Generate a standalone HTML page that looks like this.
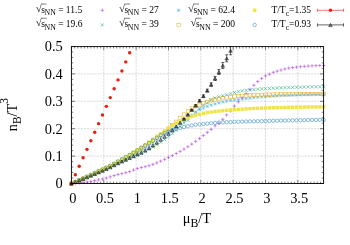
<!DOCTYPE html>
<html><head><meta charset="utf-8"><title>plot</title><style>html,body{margin:0;padding:0;background:#fff}</style></head><body>
<svg width="350" height="245" viewBox="0 0 350 245" style="display:block;font-family:'Liberation Serif',serif">
<rect width="350" height="245" fill="#fff"/>
<path d="M103.79 46.6V183.5M136.13 46.6V183.5M168.47 46.6V183.5M200.81 46.6V183.5M233.15 46.6V183.5M265.49 46.6V183.5M297.83 46.6V183.5M71.4 156.10H323.6M71.4 128.70H323.6M71.4 101.30H323.6M71.4 73.90H323.6" stroke="#bdbdbd" stroke-width="0.55" stroke-dasharray="2.2 0.95" fill="none"/>
<path d="M71.45 183.5v-3.5M71.45 46.6v3.5M74.68 183.5v-1.9M74.68 46.6v1.9M77.92 183.5v-1.9M77.92 46.6v1.9M81.15 183.5v-1.9M81.15 46.6v1.9M84.39 183.5v-1.9M84.39 46.6v1.9M87.62 183.5v-1.9M87.62 46.6v1.9M90.85 183.5v-1.9M90.85 46.6v1.9M94.09 183.5v-1.9M94.09 46.6v1.9M97.32 183.5v-1.9M97.32 46.6v1.9M100.56 183.5v-1.9M100.56 46.6v1.9M103.79 183.5v-3.5M103.79 46.6v3.5M107.02 183.5v-1.9M107.02 46.6v1.9M110.26 183.5v-1.9M110.26 46.6v1.9M113.49 183.5v-1.9M113.49 46.6v1.9M116.73 183.5v-1.9M116.73 46.6v1.9M119.96 183.5v-1.9M119.96 46.6v1.9M123.19 183.5v-1.9M123.19 46.6v1.9M126.43 183.5v-1.9M126.43 46.6v1.9M129.66 183.5v-1.9M129.66 46.6v1.9M132.90 183.5v-1.9M132.90 46.6v1.9M136.13 183.5v-3.5M136.13 46.6v3.5M139.36 183.5v-1.9M139.36 46.6v1.9M142.60 183.5v-1.9M142.60 46.6v1.9M145.83 183.5v-1.9M145.83 46.6v1.9M149.07 183.5v-1.9M149.07 46.6v1.9M152.30 183.5v-1.9M152.30 46.6v1.9M155.53 183.5v-1.9M155.53 46.6v1.9M158.77 183.5v-1.9M158.77 46.6v1.9M162.00 183.5v-1.9M162.00 46.6v1.9M165.24 183.5v-1.9M165.24 46.6v1.9M168.47 183.5v-3.5M168.47 46.6v3.5M171.70 183.5v-1.9M171.70 46.6v1.9M174.94 183.5v-1.9M174.94 46.6v1.9M178.17 183.5v-1.9M178.17 46.6v1.9M181.41 183.5v-1.9M181.41 46.6v1.9M184.64 183.5v-1.9M184.64 46.6v1.9M187.87 183.5v-1.9M187.87 46.6v1.9M191.11 183.5v-1.9M191.11 46.6v1.9M194.34 183.5v-1.9M194.34 46.6v1.9M197.58 183.5v-1.9M197.58 46.6v1.9M200.81 183.5v-3.5M200.81 46.6v3.5M204.04 183.5v-1.9M204.04 46.6v1.9M207.28 183.5v-1.9M207.28 46.6v1.9M210.51 183.5v-1.9M210.51 46.6v1.9M213.75 183.5v-1.9M213.75 46.6v1.9M216.98 183.5v-1.9M216.98 46.6v1.9M220.21 183.5v-1.9M220.21 46.6v1.9M223.45 183.5v-1.9M223.45 46.6v1.9M226.68 183.5v-1.9M226.68 46.6v1.9M229.92 183.5v-1.9M229.92 46.6v1.9M233.15 183.5v-3.5M233.15 46.6v3.5M236.38 183.5v-1.9M236.38 46.6v1.9M239.62 183.5v-1.9M239.62 46.6v1.9M242.85 183.5v-1.9M242.85 46.6v1.9M246.09 183.5v-1.9M246.09 46.6v1.9M249.32 183.5v-1.9M249.32 46.6v1.9M252.55 183.5v-1.9M252.55 46.6v1.9M255.79 183.5v-1.9M255.79 46.6v1.9M259.02 183.5v-1.9M259.02 46.6v1.9M262.26 183.5v-1.9M262.26 46.6v1.9M265.49 183.5v-3.5M265.49 46.6v3.5M268.72 183.5v-1.9M268.72 46.6v1.9M271.96 183.5v-1.9M271.96 46.6v1.9M275.19 183.5v-1.9M275.19 46.6v1.9M278.43 183.5v-1.9M278.43 46.6v1.9M281.66 183.5v-1.9M281.66 46.6v1.9M284.89 183.5v-1.9M284.89 46.6v1.9M288.13 183.5v-1.9M288.13 46.6v1.9M291.36 183.5v-1.9M291.36 46.6v1.9M294.60 183.5v-1.9M294.60 46.6v1.9M297.83 183.5v-3.5M297.83 46.6v3.5M301.06 183.5v-1.9M301.06 46.6v1.9M304.30 183.5v-1.9M304.30 46.6v1.9M307.53 183.5v-1.9M307.53 46.6v1.9M310.77 183.5v-1.9M310.77 46.6v1.9M314.00 183.5v-1.9M314.00 46.6v1.9M317.23 183.5v-1.9M317.23 46.6v1.9M320.47 183.5v-1.9M320.47 46.6v1.9M71.4 183.50h3.6M323.6 183.50h-3.6M71.4 178.02h1.9M323.6 178.02h-1.9M71.4 172.54h1.9M323.6 172.54h-1.9M71.4 167.06h1.9M323.6 167.06h-1.9M71.4 161.58h1.9M323.6 161.58h-1.9M71.4 156.10h3.6M323.6 156.10h-3.6M71.4 150.62h1.9M323.6 150.62h-1.9M71.4 145.14h1.9M323.6 145.14h-1.9M71.4 139.66h1.9M323.6 139.66h-1.9M71.4 134.18h1.9M323.6 134.18h-1.9M71.4 128.70h3.6M323.6 128.70h-3.6M71.4 123.22h1.9M323.6 123.22h-1.9M71.4 117.74h1.9M323.6 117.74h-1.9M71.4 112.26h1.9M323.6 112.26h-1.9M71.4 106.78h1.9M323.6 106.78h-1.9M71.4 101.30h3.6M323.6 101.30h-3.6M71.4 95.82h1.9M323.6 95.82h-1.9M71.4 90.34h1.9M323.6 90.34h-1.9M71.4 84.86h1.9M323.6 84.86h-1.9M71.4 79.38h1.9M323.6 79.38h-1.9M71.4 73.90h3.6M323.6 73.90h-3.6M71.4 68.42h1.9M323.6 68.42h-1.9M71.4 62.94h1.9M323.6 62.94h-1.9M71.4 57.46h1.9M323.6 57.46h-1.9M71.4 51.98h1.9M323.6 51.98h-1.9M71.4 46.50h3.6M323.6 46.50h-3.6" stroke="#000" stroke-width="0.5" fill="none"/>
<clipPath id="c"><rect x="68.4" y="46.1" width="258.20000000000005" height="139.9"/></clipPath>
<g clip-path="url(#c)">
<path d="M69.75 183.50H73.15M71.45 181.80V185.20" stroke="#9400D3" stroke-width="0.42" fill="none"/>
<path d="M73.63 183.35H77.03M75.33 181.65V185.05" stroke="#9400D3" stroke-width="0.42" fill="none"/>
<path d="M77.51 183.04H80.91M79.21 181.34V184.74" stroke="#9400D3" stroke-width="0.42" fill="none"/>
<path d="M81.39 182.59H84.79M83.09 180.89V184.29" stroke="#9400D3" stroke-width="0.42" fill="none"/>
<path d="M85.27 182.03H88.67M86.97 180.33V183.73" stroke="#9400D3" stroke-width="0.42" fill="none"/>
<path d="M89.15 181.37H92.55M90.85 179.67V183.07" stroke="#9400D3" stroke-width="0.42" fill="none"/>
<path d="M93.03 180.64H96.43M94.73 178.94V182.34" stroke="#9400D3" stroke-width="0.42" fill="none"/>
<path d="M96.92 179.85H100.32M98.62 178.15V181.55" stroke="#9400D3" stroke-width="0.42" fill="none"/>
<path d="M100.80 179.03H104.20M102.50 177.33V180.73" stroke="#9400D3" stroke-width="0.42" fill="none"/>
<path d="M104.68 178.12H108.08M106.38 176.42V179.82" stroke="#9400D3" stroke-width="0.42" fill="none"/>
<path d="M108.56 176.83H111.96M110.26 175.13V178.53" stroke="#9400D3" stroke-width="0.42" fill="none"/>
<path d="M112.44 175.56H115.84M114.14 173.86V177.26" stroke="#9400D3" stroke-width="0.42" fill="none"/>
<path d="M116.32 174.55H119.72M118.02 172.85V176.25" stroke="#9400D3" stroke-width="0.42" fill="none"/>
<path d="M120.20 173.65H123.60M121.90 171.95V175.35" stroke="#9400D3" stroke-width="0.42" fill="none"/>
<path d="M124.08 172.71H127.48M125.78 171.01V174.41" stroke="#9400D3" stroke-width="0.42" fill="none"/>
<path d="M127.96 171.61H131.36M129.66 169.91V173.31" stroke="#9400D3" stroke-width="0.42" fill="none"/>
<path d="M131.84 170.06H135.24M133.54 168.36V171.76" stroke="#9400D3" stroke-width="0.42" fill="none"/>
<path d="M135.72 168.58H139.12M137.42 166.88V170.28" stroke="#9400D3" stroke-width="0.42" fill="none"/>
<path d="M139.60 167.56H143.00M141.30 165.86V169.26" stroke="#9400D3" stroke-width="0.42" fill="none"/>
<path d="M143.49 166.68H146.89M145.19 164.98V168.38" stroke="#9400D3" stroke-width="0.42" fill="none"/>
<path d="M147.37 165.68H150.77M149.07 163.98V167.38" stroke="#9400D3" stroke-width="0.42" fill="none"/>
<path d="M151.25 164.39H154.65M152.95 162.69V166.09" stroke="#9400D3" stroke-width="0.42" fill="none"/>
<path d="M155.13 162.86H158.53M156.83 161.16V164.56" stroke="#9400D3" stroke-width="0.42" fill="none"/>
<path d="M159.01 161.15H162.41M160.71 159.45V162.85" stroke="#9400D3" stroke-width="0.42" fill="none"/>
<path d="M162.89 159.33H166.29M164.59 157.63V161.03" stroke="#9400D3" stroke-width="0.42" fill="none"/>
<path d="M166.77 157.46H170.17M168.47 155.76V159.16" stroke="#9400D3" stroke-width="0.42" fill="none"/>
<path d="M170.65 155.54H174.05M172.35 153.84V157.24" stroke="#9400D3" stroke-width="0.42" fill="none"/>
<path d="M174.53 153.52H177.93M176.23 151.82V155.22" stroke="#9400D3" stroke-width="0.42" fill="none"/>
<path d="M178.41 151.37H181.81M180.11 149.67V153.07" stroke="#9400D3" stroke-width="0.42" fill="none"/>
<path d="M182.29 149.11H185.69M183.99 147.41V150.81" stroke="#9400D3" stroke-width="0.42" fill="none"/>
<path d="M186.17 146.70H189.57M187.87 145.00V148.40" stroke="#9400D3" stroke-width="0.42" fill="none"/>
<path d="M190.05 144.11H193.45M191.75 142.41V145.81" stroke="#9400D3" stroke-width="0.42" fill="none"/>
<path d="M193.94 141.37H197.34M195.64 139.67V143.07" stroke="#9400D3" stroke-width="0.42" fill="none"/>
<path d="M197.82 138.50H201.22M199.52 136.80V140.20" stroke="#9400D3" stroke-width="0.42" fill="none"/>
<path d="M201.70 135.41H205.10M203.40 133.71V137.11" stroke="#9400D3" stroke-width="0.42" fill="none"/>
<path d="M205.58 132.38H208.98M207.28 130.68V134.08" stroke="#9400D3" stroke-width="0.42" fill="none"/>
<path d="M209.46 129.35H212.86M211.16 127.65V131.05" stroke="#9400D3" stroke-width="0.42" fill="none"/>
<path d="M213.34 125.89H216.74M215.04 124.19V127.59" stroke="#9400D3" stroke-width="0.42" fill="none"/>
<path d="M217.22 123.25H220.62M218.92 121.55V124.95" stroke="#9400D3" stroke-width="0.42" fill="none"/>
<path d="M221.10 119.34H224.50M222.80 117.64V121.04" stroke="#9400D3" stroke-width="0.42" fill="none"/>
<path d="M224.98 115.01H228.38M226.68 113.31V116.71" stroke="#9400D3" stroke-width="0.42" fill="none"/>
<path d="M228.86 111.01H232.26M230.56 109.31V112.71" stroke="#9400D3" stroke-width="0.42" fill="none"/>
<path d="M232.74 106.11H236.14M234.44 104.41V107.81" stroke="#9400D3" stroke-width="0.42" fill="none"/>
<path d="M236.62 101.85H240.02M238.32 100.15V103.55" stroke="#9400D3" stroke-width="0.42" fill="none"/>
<path d="M240.51 97.77H243.91M242.21 96.07V99.47" stroke="#9400D3" stroke-width="0.42" fill="none"/>
<path d="M244.39 93.50H247.79M246.09 91.80V95.20" stroke="#9400D3" stroke-width="0.42" fill="none"/>
<path d="M248.27 89.51H251.67M249.97 87.81V91.21" stroke="#9400D3" stroke-width="0.42" fill="none"/>
<path d="M252.15 85.25H255.55M253.85 83.55V86.95" stroke="#9400D3" stroke-width="0.42" fill="none"/>
<path d="M256.03 81.56H259.43M257.73 79.86V83.26" stroke="#9400D3" stroke-width="0.42" fill="none"/>
<path d="M259.91 78.59H263.31M261.61 76.89V80.29" stroke="#9400D3" stroke-width="0.42" fill="none"/>
<path d="M263.79 75.85H267.19M265.49 74.15V77.55" stroke="#9400D3" stroke-width="0.42" fill="none"/>
<path d="M267.67 74.16H271.07M269.37 72.46V75.86" stroke="#9400D3" stroke-width="0.42" fill="none"/>
<path d="M271.55 72.32H274.95M273.25 70.62V74.02" stroke="#9400D3" stroke-width="0.42" fill="none"/>
<path d="M275.43 71.19H278.83M277.13 69.49V72.89" stroke="#9400D3" stroke-width="0.42" fill="none"/>
<path d="M279.31 70.05H282.71M281.01 68.35V71.75" stroke="#9400D3" stroke-width="0.42" fill="none"/>
<path d="M283.19 69.03H286.59M284.89 67.33V70.73" stroke="#9400D3" stroke-width="0.42" fill="none"/>
<path d="M287.07 68.12H290.47M288.77 66.42V69.82" stroke="#9400D3" stroke-width="0.42" fill="none"/>
<path d="M290.96 67.53H294.36M292.66 65.83V69.23" stroke="#9400D3" stroke-width="0.42" fill="none"/>
<path d="M294.84 67.11H298.24M296.54 65.41V68.81" stroke="#9400D3" stroke-width="0.42" fill="none"/>
<path d="M298.72 66.72H302.12M300.42 65.02V68.42" stroke="#9400D3" stroke-width="0.42" fill="none"/>
<path d="M302.60 66.38H306.00M304.30 64.68V68.08" stroke="#9400D3" stroke-width="0.42" fill="none"/>
<path d="M306.48 66.08H309.88M308.18 64.38V67.78" stroke="#9400D3" stroke-width="0.42" fill="none"/>
<path d="M310.36 65.84H313.76M312.06 64.14V67.54" stroke="#9400D3" stroke-width="0.42" fill="none"/>
<path d="M314.24 65.65H317.64M315.94 63.95V67.35" stroke="#9400D3" stroke-width="0.42" fill="none"/>
<path d="M318.12 65.54H321.52M319.82 63.84V67.24" stroke="#9400D3" stroke-width="0.42" fill="none"/>
<path d="M322.00 65.50H325.40M323.70 63.80V67.20" stroke="#9400D3" stroke-width="0.42" fill="none"/>
<path d="M69.85 181.90L73.05 185.10M69.85 185.10L73.05 181.90" stroke="#009E73" stroke-width="0.5" fill="none"/>
<path d="M73.73 180.36L76.93 183.56M73.73 183.56L76.93 180.36" stroke="#009E73" stroke-width="0.5" fill="none"/>
<path d="M77.61 178.81L80.81 182.01M77.61 182.01L80.81 178.81" stroke="#009E73" stroke-width="0.5" fill="none"/>
<path d="M81.49 177.26L84.69 180.46M81.49 180.46L84.69 177.26" stroke="#009E73" stroke-width="0.5" fill="none"/>
<path d="M85.37 175.70L88.57 178.90M85.37 178.90L88.57 175.70" stroke="#009E73" stroke-width="0.5" fill="none"/>
<path d="M89.25 174.15L92.45 177.35M89.25 177.35L92.45 174.15" stroke="#009E73" stroke-width="0.5" fill="none"/>
<path d="M93.13 172.61L96.33 175.81M93.13 175.81L96.33 172.61" stroke="#009E73" stroke-width="0.5" fill="none"/>
<path d="M97.02 171.04L100.22 174.24M97.02 174.24L100.22 171.04" stroke="#009E73" stroke-width="0.5" fill="none"/>
<path d="M100.90 169.40L104.10 172.60M100.90 172.60L104.10 169.40" stroke="#009E73" stroke-width="0.5" fill="none"/>
<path d="M104.78 167.66L107.98 170.86M104.78 170.86L107.98 167.66" stroke="#009E73" stroke-width="0.5" fill="none"/>
<path d="M108.66 165.83L111.86 169.03M108.66 169.03L111.86 165.83" stroke="#009E73" stroke-width="0.5" fill="none"/>
<path d="M112.54 163.99L115.74 167.19M112.54 167.19L115.74 163.99" stroke="#009E73" stroke-width="0.5" fill="none"/>
<path d="M116.42 162.20L119.62 165.40M116.42 165.40L119.62 162.20" stroke="#009E73" stroke-width="0.5" fill="none"/>
<path d="M120.30 160.48L123.50 163.68M120.30 163.68L123.50 160.48" stroke="#009E73" stroke-width="0.5" fill="none"/>
<path d="M124.18 158.81L127.38 162.01M124.18 162.01L127.38 158.81" stroke="#009E73" stroke-width="0.5" fill="none"/>
<path d="M128.06 157.12L131.26 160.32M128.06 160.32L131.26 157.12" stroke="#009E73" stroke-width="0.5" fill="none"/>
<path d="M131.94 155.40L135.14 158.60M131.94 158.60L135.14 155.40" stroke="#009E73" stroke-width="0.5" fill="none"/>
<path d="M135.82 153.60L139.02 156.80M135.82 156.80L139.02 153.60" stroke="#009E73" stroke-width="0.5" fill="none"/>
<path d="M139.70 151.90L142.90 155.10M139.70 155.10L142.90 151.90" stroke="#009E73" stroke-width="0.5" fill="none"/>
<path d="M143.59 150.00L146.79 153.20M143.59 153.20L146.79 150.00" stroke="#009E73" stroke-width="0.5" fill="none"/>
<path d="M147.47 147.90L150.67 151.10M147.47 151.10L150.67 147.90" stroke="#009E73" stroke-width="0.5" fill="none"/>
<path d="M151.35 145.52L154.55 148.72M151.35 148.72L154.55 145.52" stroke="#009E73" stroke-width="0.5" fill="none"/>
<path d="M155.23 143.00L158.43 146.20M155.23 146.20L158.43 143.00" stroke="#009E73" stroke-width="0.5" fill="none"/>
<path d="M159.11 140.57L162.31 143.77M159.11 143.77L162.31 140.57" stroke="#009E73" stroke-width="0.5" fill="none"/>
<path d="M162.99 138.00L166.19 141.20M162.99 141.20L166.19 138.00" stroke="#009E73" stroke-width="0.5" fill="none"/>
<path d="M166.87 135.08L170.07 138.28M166.87 138.28L170.07 135.08" stroke="#009E73" stroke-width="0.5" fill="none"/>
<path d="M170.75 131.90L173.95 135.10M170.75 135.10L173.95 131.90" stroke="#009E73" stroke-width="0.5" fill="none"/>
<path d="M174.63 128.46L177.83 131.66M174.63 131.66L177.83 128.46" stroke="#009E73" stroke-width="0.5" fill="none"/>
<path d="M178.51 124.90L181.71 128.10M178.51 128.10L181.71 124.90" stroke="#009E73" stroke-width="0.5" fill="none"/>
<path d="M182.39 121.40L185.59 124.60M182.39 124.60L185.59 121.40" stroke="#009E73" stroke-width="0.5" fill="none"/>
<path d="M186.27 118.80L189.47 122.00M186.27 122.00L189.47 118.80" stroke="#009E73" stroke-width="0.5" fill="none"/>
<path d="M190.15 114.76L193.35 117.96M190.15 117.96L193.35 114.76" stroke="#009E73" stroke-width="0.5" fill="none"/>
<path d="M194.04 110.40L197.24 113.60M194.04 113.60L197.24 110.40" stroke="#009E73" stroke-width="0.5" fill="none"/>
<path d="M197.92 106.64L201.12 109.84M197.92 109.84L201.12 106.64" stroke="#009E73" stroke-width="0.5" fill="none"/>
<path d="M201.80 103.50L205.00 106.70M201.80 106.70L205.00 103.50" stroke="#009E73" stroke-width="0.5" fill="none"/>
<path d="M205.68 101.40L208.88 104.60M205.68 104.60L208.88 101.40" stroke="#009E73" stroke-width="0.5" fill="none"/>
<path d="M209.56 98.26L212.76 101.46M209.56 101.46L212.76 98.26" stroke="#009E73" stroke-width="0.5" fill="none"/>
<path d="M213.44 96.46L216.64 99.66M213.44 99.66L216.64 96.46" stroke="#009E73" stroke-width="0.5" fill="none"/>
<path d="M217.32 95.19L220.52 98.39M217.32 98.39L220.52 95.19" stroke="#009E73" stroke-width="0.5" fill="none"/>
<path d="M221.20 94.16L224.40 97.36M221.20 97.36L224.40 94.16" stroke="#009E73" stroke-width="0.5" fill="none"/>
<path d="M225.08 93.20L228.28 96.40M225.08 96.40L228.28 93.20" stroke="#009E73" stroke-width="0.5" fill="none"/>
<path d="M228.96 92.13L232.16 95.33M228.96 95.33L232.16 92.13" stroke="#009E73" stroke-width="0.5" fill="none"/>
<path d="M232.84 90.87L236.04 94.07M232.84 94.07L236.04 90.87" stroke="#009E73" stroke-width="0.5" fill="none"/>
<path d="M236.72 89.85L239.92 93.05M236.72 93.05L239.92 89.85" stroke="#009E73" stroke-width="0.5" fill="none"/>
<path d="M240.61 89.23L243.81 92.43M240.61 92.43L243.81 89.23" stroke="#009E73" stroke-width="0.5" fill="none"/>
<path d="M244.49 88.71L247.69 91.91M244.49 91.91L247.69 88.71" stroke="#009E73" stroke-width="0.5" fill="none"/>
<path d="M248.37 88.27L251.57 91.47M248.37 91.47L251.57 88.27" stroke="#009E73" stroke-width="0.5" fill="none"/>
<path d="M252.25 87.90L255.45 91.10M252.25 91.10L255.45 87.90" stroke="#009E73" stroke-width="0.5" fill="none"/>
<path d="M256.13 87.57L259.33 90.77M256.13 90.77L259.33 87.57" stroke="#009E73" stroke-width="0.5" fill="none"/>
<path d="M260.01 87.28L263.21 90.48M260.01 90.48L263.21 87.28" stroke="#009E73" stroke-width="0.5" fill="none"/>
<path d="M263.89 87.01L267.09 90.21M263.89 90.21L267.09 87.01" stroke="#009E73" stroke-width="0.5" fill="none"/>
<path d="M267.77 86.76L270.97 89.96M267.77 89.96L270.97 86.76" stroke="#009E73" stroke-width="0.5" fill="none"/>
<path d="M271.65 86.53L274.85 89.73M271.65 89.73L274.85 86.53" stroke="#009E73" stroke-width="0.5" fill="none"/>
<path d="M275.53 86.33L278.73 89.53M275.53 89.53L278.73 86.33" stroke="#009E73" stroke-width="0.5" fill="none"/>
<path d="M279.41 86.15L282.61 89.35M279.41 89.35L282.61 86.15" stroke="#009E73" stroke-width="0.5" fill="none"/>
<path d="M283.29 86.00L286.49 89.20M283.29 89.20L286.49 86.00" stroke="#009E73" stroke-width="0.5" fill="none"/>
<path d="M287.17 85.87L290.37 89.07M287.17 89.07L290.37 85.87" stroke="#009E73" stroke-width="0.5" fill="none"/>
<path d="M291.06 85.75L294.26 88.95M291.06 88.95L294.26 85.75" stroke="#009E73" stroke-width="0.5" fill="none"/>
<path d="M294.94 85.62L298.14 88.82M294.94 88.82L298.14 85.62" stroke="#009E73" stroke-width="0.5" fill="none"/>
<path d="M298.82 85.51L302.02 88.71M298.82 88.71L302.02 85.51" stroke="#009E73" stroke-width="0.5" fill="none"/>
<path d="M302.70 85.40L305.90 88.60M302.70 88.60L305.90 85.40" stroke="#009E73" stroke-width="0.5" fill="none"/>
<path d="M306.58 85.31L309.78 88.51M306.58 88.51L309.78 85.31" stroke="#009E73" stroke-width="0.5" fill="none"/>
<path d="M310.46 85.23L313.66 88.43M310.46 88.43L313.66 85.23" stroke="#009E73" stroke-width="0.5" fill="none"/>
<path d="M314.34 85.17L317.54 88.37M314.34 88.37L317.54 85.17" stroke="#009E73" stroke-width="0.5" fill="none"/>
<path d="M318.22 85.12L321.42 88.32M318.22 88.32L321.42 85.12" stroke="#009E73" stroke-width="0.5" fill="none"/>
<path d="M322.10 85.10L325.30 88.30M322.10 88.30L325.30 85.10" stroke="#009E73" stroke-width="0.5" fill="none"/>
<path d="M69.85 183.50H73.05M71.45 181.90V185.10" stroke="#56B4E9" stroke-width="0.5" fill="none"/><path d="M69.85 181.90L73.05 185.10M69.85 185.10L73.05 181.90" stroke="#56B4E9" stroke-width="0.5" fill="none"/>
<path d="M73.73 181.92H76.93M75.33 180.32V183.52" stroke="#56B4E9" stroke-width="0.5" fill="none"/><path d="M73.73 180.32L76.93 183.52M73.73 183.52L76.93 180.32" stroke="#56B4E9" stroke-width="0.5" fill="none"/>
<path d="M77.61 180.31H80.81M79.21 178.71V181.91" stroke="#56B4E9" stroke-width="0.5" fill="none"/><path d="M77.61 178.71L80.81 181.91M77.61 181.91L80.81 178.71" stroke="#56B4E9" stroke-width="0.5" fill="none"/>
<path d="M81.49 178.67H84.69M83.09 177.07V180.27" stroke="#56B4E9" stroke-width="0.5" fill="none"/><path d="M81.49 177.07L84.69 180.27M81.49 180.27L84.69 177.07" stroke="#56B4E9" stroke-width="0.5" fill="none"/>
<path d="M85.37 177.00H88.57M86.97 175.40V178.60" stroke="#56B4E9" stroke-width="0.5" fill="none"/><path d="M85.37 175.40L88.57 178.60M85.37 178.60L88.57 175.40" stroke="#56B4E9" stroke-width="0.5" fill="none"/>
<path d="M89.25 175.30H92.45M90.85 173.70V176.90" stroke="#56B4E9" stroke-width="0.5" fill="none"/><path d="M89.25 173.70L92.45 176.90M89.25 176.90L92.45 173.70" stroke="#56B4E9" stroke-width="0.5" fill="none"/>
<path d="M93.13 173.57H96.33M94.73 171.97V175.17" stroke="#56B4E9" stroke-width="0.5" fill="none"/><path d="M93.13 171.97L96.33 175.17M93.13 175.17L96.33 171.97" stroke="#56B4E9" stroke-width="0.5" fill="none"/>
<path d="M97.02 171.80H100.22M98.62 170.20V173.40" stroke="#56B4E9" stroke-width="0.5" fill="none"/><path d="M97.02 170.20L100.22 173.40M97.02 173.40L100.22 170.20" stroke="#56B4E9" stroke-width="0.5" fill="none"/>
<path d="M100.90 170.00H104.10M102.50 168.40V171.60" stroke="#56B4E9" stroke-width="0.5" fill="none"/><path d="M100.90 168.40L104.10 171.60M100.90 171.60L104.10 168.40" stroke="#56B4E9" stroke-width="0.5" fill="none"/>
<path d="M104.78 168.15H107.98M106.38 166.55V169.75" stroke="#56B4E9" stroke-width="0.5" fill="none"/><path d="M104.78 166.55L107.98 169.75M104.78 169.75L107.98 166.55" stroke="#56B4E9" stroke-width="0.5" fill="none"/>
<path d="M108.66 166.26H111.86M110.26 164.66V167.86" stroke="#56B4E9" stroke-width="0.5" fill="none"/><path d="M108.66 164.66L111.86 167.86M108.66 167.86L111.86 164.66" stroke="#56B4E9" stroke-width="0.5" fill="none"/>
<path d="M112.54 164.34H115.74M114.14 162.74V165.94" stroke="#56B4E9" stroke-width="0.5" fill="none"/><path d="M112.54 162.74L115.74 165.94M112.54 165.94L115.74 162.74" stroke="#56B4E9" stroke-width="0.5" fill="none"/>
<path d="M116.42 162.40H119.62M118.02 160.80V164.00" stroke="#56B4E9" stroke-width="0.5" fill="none"/><path d="M116.42 160.80L119.62 164.00M116.42 164.00L119.62 160.80" stroke="#56B4E9" stroke-width="0.5" fill="none"/>
<path d="M120.30 160.46H123.50M121.90 158.86V162.06" stroke="#56B4E9" stroke-width="0.5" fill="none"/><path d="M120.30 158.86L123.50 162.06M120.30 162.06L123.50 158.86" stroke="#56B4E9" stroke-width="0.5" fill="none"/>
<path d="M124.18 158.51H127.38M125.78 156.91V160.11" stroke="#56B4E9" stroke-width="0.5" fill="none"/><path d="M124.18 156.91L127.38 160.11M124.18 160.11L127.38 156.91" stroke="#56B4E9" stroke-width="0.5" fill="none"/>
<path d="M128.06 156.52H131.26M129.66 154.92V158.12" stroke="#56B4E9" stroke-width="0.5" fill="none"/><path d="M128.06 154.92L131.26 158.12M128.06 158.12L131.26 154.92" stroke="#56B4E9" stroke-width="0.5" fill="none"/>
<path d="M131.94 154.50H135.14M133.54 152.90V156.10" stroke="#56B4E9" stroke-width="0.5" fill="none"/><path d="M131.94 152.90L135.14 156.10M131.94 156.10L135.14 152.90" stroke="#56B4E9" stroke-width="0.5" fill="none"/>
<path d="M135.82 152.49H139.02M137.42 150.89V154.09" stroke="#56B4E9" stroke-width="0.5" fill="none"/><path d="M135.82 150.89L139.02 154.09M135.82 154.09L139.02 150.89" stroke="#56B4E9" stroke-width="0.5" fill="none"/>
<path d="M139.70 150.48H142.90M141.30 148.88V152.08" stroke="#56B4E9" stroke-width="0.5" fill="none"/><path d="M139.70 148.88L142.90 152.08M139.70 152.08L142.90 148.88" stroke="#56B4E9" stroke-width="0.5" fill="none"/>
<path d="M143.59 148.36H146.79M145.19 146.76V149.96" stroke="#56B4E9" stroke-width="0.5" fill="none"/><path d="M143.59 146.76L146.79 149.96M143.59 149.96L146.79 146.76" stroke="#56B4E9" stroke-width="0.5" fill="none"/>
<path d="M147.47 146.00H150.67M149.07 144.40V147.60" stroke="#56B4E9" stroke-width="0.5" fill="none"/><path d="M147.47 144.40L150.67 147.60M147.47 147.60L150.67 144.40" stroke="#56B4E9" stroke-width="0.5" fill="none"/>
<path d="M151.35 143.16H154.55M152.95 141.56V144.76" stroke="#56B4E9" stroke-width="0.5" fill="none"/><path d="M151.35 141.56L154.55 144.76M151.35 144.76L154.55 141.56" stroke="#56B4E9" stroke-width="0.5" fill="none"/>
<path d="M155.23 140.00H158.43M156.83 138.40V141.60" stroke="#56B4E9" stroke-width="0.5" fill="none"/><path d="M155.23 138.40L158.43 141.60M155.23 141.60L158.43 138.40" stroke="#56B4E9" stroke-width="0.5" fill="none"/>
<path d="M159.11 137.00H162.31M160.71 135.40V138.60" stroke="#56B4E9" stroke-width="0.5" fill="none"/><path d="M159.11 135.40L162.31 138.60M159.11 138.60L162.31 135.40" stroke="#56B4E9" stroke-width="0.5" fill="none"/>
<path d="M162.99 134.40H166.19M164.59 132.80V136.00" stroke="#56B4E9" stroke-width="0.5" fill="none"/><path d="M162.99 132.80L166.19 136.00M162.99 136.00L166.19 132.80" stroke="#56B4E9" stroke-width="0.5" fill="none"/>
<path d="M166.87 131.72H170.07M168.47 130.12V133.32" stroke="#56B4E9" stroke-width="0.5" fill="none"/><path d="M166.87 130.12L170.07 133.32M166.87 133.32L170.07 130.12" stroke="#56B4E9" stroke-width="0.5" fill="none"/>
<path d="M170.75 129.00H173.95M172.35 127.40V130.60" stroke="#56B4E9" stroke-width="0.5" fill="none"/><path d="M170.75 127.40L173.95 130.60M170.75 130.60L173.95 127.40" stroke="#56B4E9" stroke-width="0.5" fill="none"/>
<path d="M174.63 126.26H177.83M176.23 124.66V127.86" stroke="#56B4E9" stroke-width="0.5" fill="none"/><path d="M174.63 124.66L177.83 127.86M174.63 127.86L177.83 124.66" stroke="#56B4E9" stroke-width="0.5" fill="none"/>
<path d="M178.51 123.50H181.71M180.11 121.90V125.10" stroke="#56B4E9" stroke-width="0.5" fill="none"/><path d="M178.51 121.90L181.71 125.10M178.51 125.10L181.71 121.90" stroke="#56B4E9" stroke-width="0.5" fill="none"/>
<path d="M182.39 120.76H185.59M183.99 119.16V122.36" stroke="#56B4E9" stroke-width="0.5" fill="none"/><path d="M182.39 119.16L185.59 122.36M182.39 122.36L185.59 119.16" stroke="#56B4E9" stroke-width="0.5" fill="none"/>
<path d="M186.27 118.00H189.47M187.87 116.40V119.60" stroke="#56B4E9" stroke-width="0.5" fill="none"/><path d="M186.27 116.40L189.47 119.60M186.27 119.60L189.47 116.40" stroke="#56B4E9" stroke-width="0.5" fill="none"/>
<path d="M190.15 115.13H193.35M191.75 113.53V116.73" stroke="#56B4E9" stroke-width="0.5" fill="none"/><path d="M190.15 113.53L193.35 116.73M190.15 116.73L193.35 113.53" stroke="#56B4E9" stroke-width="0.5" fill="none"/>
<path d="M194.04 112.30H197.24M195.64 110.70V113.90" stroke="#56B4E9" stroke-width="0.5" fill="none"/><path d="M194.04 110.70L197.24 113.90M194.04 113.90L197.24 110.70" stroke="#56B4E9" stroke-width="0.5" fill="none"/>
<path d="M197.92 109.70H201.12M199.52 108.10V111.30" stroke="#56B4E9" stroke-width="0.5" fill="none"/><path d="M197.92 108.10L201.12 111.30M197.92 111.30L201.12 108.10" stroke="#56B4E9" stroke-width="0.5" fill="none"/>
<path d="M201.80 108.00H205.00M203.40 106.40V109.60" stroke="#56B4E9" stroke-width="0.5" fill="none"/><path d="M201.80 106.40L205.00 109.60M201.80 109.60L205.00 106.40" stroke="#56B4E9" stroke-width="0.5" fill="none"/>
<path d="M205.68 106.30H208.88M207.28 104.70V107.90" stroke="#56B4E9" stroke-width="0.5" fill="none"/><path d="M205.68 104.70L208.88 107.90M205.68 107.90L208.88 104.70" stroke="#56B4E9" stroke-width="0.5" fill="none"/>
<path d="M209.56 105.05H212.76M211.16 103.45V106.65" stroke="#56B4E9" stroke-width="0.5" fill="none"/><path d="M209.56 103.45L212.76 106.65M209.56 106.65L212.76 103.45" stroke="#56B4E9" stroke-width="0.5" fill="none"/>
<path d="M213.44 103.91H216.64M215.04 102.31V105.51" stroke="#56B4E9" stroke-width="0.5" fill="none"/><path d="M213.44 102.31L216.64 105.51M213.44 105.51L216.64 102.31" stroke="#56B4E9" stroke-width="0.5" fill="none"/>
<path d="M217.32 102.87H220.52M218.92 101.27V104.47" stroke="#56B4E9" stroke-width="0.5" fill="none"/><path d="M217.32 101.27L220.52 104.47M217.32 104.47L220.52 101.27" stroke="#56B4E9" stroke-width="0.5" fill="none"/>
<path d="M221.20 101.94H224.40M222.80 100.34V103.54" stroke="#56B4E9" stroke-width="0.5" fill="none"/><path d="M221.20 100.34L224.40 103.54M221.20 103.54L224.40 100.34" stroke="#56B4E9" stroke-width="0.5" fill="none"/>
<path d="M225.08 101.13H228.28M226.68 99.53V102.73" stroke="#56B4E9" stroke-width="0.5" fill="none"/><path d="M225.08 99.53L228.28 102.73M225.08 102.73L228.28 99.53" stroke="#56B4E9" stroke-width="0.5" fill="none"/>
<path d="M228.96 100.44H232.16M230.56 98.84V102.04" stroke="#56B4E9" stroke-width="0.5" fill="none"/><path d="M228.96 98.84L232.16 102.04M228.96 102.04L232.16 98.84" stroke="#56B4E9" stroke-width="0.5" fill="none"/>
<path d="M232.84 99.88H236.04M234.44 98.28V101.48" stroke="#56B4E9" stroke-width="0.5" fill="none"/><path d="M232.84 98.28L236.04 101.48M232.84 101.48L236.04 98.28" stroke="#56B4E9" stroke-width="0.5" fill="none"/>
<path d="M236.72 99.47H239.92M238.32 97.87V101.07" stroke="#56B4E9" stroke-width="0.5" fill="none"/><path d="M236.72 97.87L239.92 101.07M236.72 101.07L239.92 97.87" stroke="#56B4E9" stroke-width="0.5" fill="none"/>
<path d="M240.61 99.06H243.81M242.21 97.46V100.66" stroke="#56B4E9" stroke-width="0.5" fill="none"/><path d="M240.61 97.46L243.81 100.66M240.61 100.66L243.81 97.46" stroke="#56B4E9" stroke-width="0.5" fill="none"/>
<path d="M244.49 98.61H247.69M246.09 97.01V100.21" stroke="#56B4E9" stroke-width="0.5" fill="none"/><path d="M244.49 97.01L247.69 100.21M244.49 100.21L247.69 97.01" stroke="#56B4E9" stroke-width="0.5" fill="none"/>
<path d="M248.37 98.15H251.57M249.97 96.55V99.75" stroke="#56B4E9" stroke-width="0.5" fill="none"/><path d="M248.37 96.55L251.57 99.75M248.37 99.75L251.57 96.55" stroke="#56B4E9" stroke-width="0.5" fill="none"/>
<path d="M252.25 97.70H255.45M253.85 96.10V99.30" stroke="#56B4E9" stroke-width="0.5" fill="none"/><path d="M252.25 96.10L255.45 99.30M252.25 99.30L255.45 96.10" stroke="#56B4E9" stroke-width="0.5" fill="none"/>
<path d="M256.13 97.27H259.33M257.73 95.67V98.87" stroke="#56B4E9" stroke-width="0.5" fill="none"/><path d="M256.13 95.67L259.33 98.87M256.13 98.87L259.33 95.67" stroke="#56B4E9" stroke-width="0.5" fill="none"/>
<path d="M260.01 96.89H263.21M261.61 95.29V98.49" stroke="#56B4E9" stroke-width="0.5" fill="none"/><path d="M260.01 95.29L263.21 98.49M260.01 98.49L263.21 95.29" stroke="#56B4E9" stroke-width="0.5" fill="none"/>
<path d="M263.89 96.56H267.09M265.49 94.96V98.16" stroke="#56B4E9" stroke-width="0.5" fill="none"/><path d="M263.89 94.96L267.09 98.16M263.89 98.16L267.09 94.96" stroke="#56B4E9" stroke-width="0.5" fill="none"/>
<path d="M267.77 96.28H270.97M269.37 94.68V97.88" stroke="#56B4E9" stroke-width="0.5" fill="none"/><path d="M267.77 94.68L270.97 97.88M267.77 97.88L270.97 94.68" stroke="#56B4E9" stroke-width="0.5" fill="none"/>
<path d="M271.65 96.01H274.85M273.25 94.41V97.61" stroke="#56B4E9" stroke-width="0.5" fill="none"/><path d="M271.65 94.41L274.85 97.61M271.65 97.61L274.85 94.41" stroke="#56B4E9" stroke-width="0.5" fill="none"/>
<path d="M275.53 95.78H278.73M277.13 94.18V97.38" stroke="#56B4E9" stroke-width="0.5" fill="none"/><path d="M275.53 94.18L278.73 97.38M275.53 97.38L278.73 94.18" stroke="#56B4E9" stroke-width="0.5" fill="none"/>
<path d="M279.41 95.57H282.61M281.01 93.97V97.17" stroke="#56B4E9" stroke-width="0.5" fill="none"/><path d="M279.41 93.97L282.61 97.17M279.41 97.17L282.61 93.97" stroke="#56B4E9" stroke-width="0.5" fill="none"/>
<path d="M283.29 95.40H286.49M284.89 93.80V97.00" stroke="#56B4E9" stroke-width="0.5" fill="none"/><path d="M283.29 93.80L286.49 97.00M283.29 97.00L286.49 93.80" stroke="#56B4E9" stroke-width="0.5" fill="none"/>
<path d="M287.17 95.26H290.37M288.77 93.66V96.86" stroke="#56B4E9" stroke-width="0.5" fill="none"/><path d="M287.17 93.66L290.37 96.86M287.17 96.86L290.37 93.66" stroke="#56B4E9" stroke-width="0.5" fill="none"/>
<path d="M291.06 95.12H294.26M292.66 93.52V96.72" stroke="#56B4E9" stroke-width="0.5" fill="none"/><path d="M291.06 93.52L294.26 96.72M291.06 96.72L294.26 93.52" stroke="#56B4E9" stroke-width="0.5" fill="none"/>
<path d="M294.94 94.98H298.14M296.54 93.38V96.58" stroke="#56B4E9" stroke-width="0.5" fill="none"/><path d="M294.94 93.38L298.14 96.58M294.94 96.58L298.14 93.38" stroke="#56B4E9" stroke-width="0.5" fill="none"/>
<path d="M298.82 94.85H302.02M300.42 93.25V96.45" stroke="#56B4E9" stroke-width="0.5" fill="none"/><path d="M298.82 93.25L302.02 96.45M298.82 96.45L302.02 93.25" stroke="#56B4E9" stroke-width="0.5" fill="none"/>
<path d="M302.70 94.73H305.90M304.30 93.13V96.33" stroke="#56B4E9" stroke-width="0.5" fill="none"/><path d="M302.70 93.13L305.90 96.33M302.70 96.33L305.90 93.13" stroke="#56B4E9" stroke-width="0.5" fill="none"/>
<path d="M306.58 94.63H309.78M308.18 93.03V96.23" stroke="#56B4E9" stroke-width="0.5" fill="none"/><path d="M306.58 93.03L309.78 96.23M306.58 96.23L309.78 93.03" stroke="#56B4E9" stroke-width="0.5" fill="none"/>
<path d="M310.46 94.54H313.66M312.06 92.94V96.14" stroke="#56B4E9" stroke-width="0.5" fill="none"/><path d="M310.46 92.94L313.66 96.14M310.46 96.14L313.66 92.94" stroke="#56B4E9" stroke-width="0.5" fill="none"/>
<path d="M314.34 94.47H317.54M315.94 92.87V96.07" stroke="#56B4E9" stroke-width="0.5" fill="none"/><path d="M314.34 92.87L317.54 96.07M314.34 96.07L317.54 92.87" stroke="#56B4E9" stroke-width="0.5" fill="none"/>
<path d="M318.22 94.42H321.42M319.82 92.82V96.02" stroke="#56B4E9" stroke-width="0.5" fill="none"/><path d="M318.22 92.82L321.42 96.02M318.22 96.02L321.42 92.82" stroke="#56B4E9" stroke-width="0.5" fill="none"/>
<path d="M322.10 94.40H325.30M323.70 92.80V96.00" stroke="#56B4E9" stroke-width="0.5" fill="none"/><path d="M322.10 92.80L325.30 96.00M322.10 96.00L325.30 92.80" stroke="#56B4E9" stroke-width="0.5" fill="none"/>
<rect x="69.80" y="181.85" width="3.30" height="3.30" stroke="#E69F00" stroke-width="0.45" fill="none"/>
<rect x="73.68" y="180.21" width="3.30" height="3.30" stroke="#E69F00" stroke-width="0.45" fill="none"/>
<rect x="77.56" y="178.55" width="3.30" height="3.30" stroke="#E69F00" stroke-width="0.45" fill="none"/>
<rect x="81.44" y="176.86" width="3.30" height="3.30" stroke="#E69F00" stroke-width="0.45" fill="none"/>
<rect x="85.32" y="175.15" width="3.30" height="3.30" stroke="#E69F00" stroke-width="0.45" fill="none"/>
<rect x="89.20" y="173.42" width="3.30" height="3.30" stroke="#E69F00" stroke-width="0.45" fill="none"/>
<rect x="93.08" y="171.67" width="3.30" height="3.30" stroke="#E69F00" stroke-width="0.45" fill="none"/>
<rect x="96.97" y="169.88" width="3.30" height="3.30" stroke="#E69F00" stroke-width="0.45" fill="none"/>
<rect x="100.85" y="168.05" width="3.30" height="3.30" stroke="#E69F00" stroke-width="0.45" fill="none"/>
<rect x="104.73" y="166.17" width="3.30" height="3.30" stroke="#E69F00" stroke-width="0.45" fill="none"/>
<rect x="108.61" y="164.24" width="3.30" height="3.30" stroke="#E69F00" stroke-width="0.45" fill="none"/>
<rect x="112.49" y="162.27" width="3.30" height="3.30" stroke="#E69F00" stroke-width="0.45" fill="none"/>
<rect x="116.37" y="160.25" width="3.30" height="3.30" stroke="#E69F00" stroke-width="0.45" fill="none"/>
<rect x="120.25" y="158.19" width="3.30" height="3.30" stroke="#E69F00" stroke-width="0.45" fill="none"/>
<rect x="124.13" y="156.07" width="3.30" height="3.30" stroke="#E69F00" stroke-width="0.45" fill="none"/>
<rect x="128.01" y="153.90" width="3.30" height="3.30" stroke="#E69F00" stroke-width="0.45" fill="none"/>
<rect x="131.89" y="151.65" width="3.30" height="3.30" stroke="#E69F00" stroke-width="0.45" fill="none"/>
<rect x="135.77" y="149.33" width="3.30" height="3.30" stroke="#E69F00" stroke-width="0.45" fill="none"/>
<rect x="139.65" y="146.94" width="3.30" height="3.30" stroke="#E69F00" stroke-width="0.45" fill="none"/>
<rect x="143.54" y="144.45" width="3.30" height="3.30" stroke="#E69F00" stroke-width="0.45" fill="none"/>
<rect x="147.42" y="141.85" width="3.30" height="3.30" stroke="#E69F00" stroke-width="0.45" fill="none"/>
<rect x="151.30" y="139.10" width="3.30" height="3.30" stroke="#E69F00" stroke-width="0.45" fill="none"/>
<rect x="155.18" y="136.21" width="3.30" height="3.30" stroke="#E69F00" stroke-width="0.45" fill="none"/>
<rect x="159.06" y="133.21" width="3.30" height="3.30" stroke="#E69F00" stroke-width="0.45" fill="none"/>
<rect x="162.94" y="130.15" width="3.30" height="3.30" stroke="#E69F00" stroke-width="0.45" fill="none"/>
<rect x="166.82" y="126.95" width="3.30" height="3.30" stroke="#E69F00" stroke-width="0.45" fill="none"/>
<rect x="170.70" y="123.45" width="3.30" height="3.30" stroke="#E69F00" stroke-width="0.45" fill="none"/>
<rect x="174.58" y="120.05" width="3.30" height="3.30" stroke="#E69F00" stroke-width="0.45" fill="none"/>
<rect x="178.46" y="116.75" width="3.30" height="3.30" stroke="#E69F00" stroke-width="0.45" fill="none"/>
<rect x="182.34" y="112.85" width="3.30" height="3.30" stroke="#E69F00" stroke-width="0.45" fill="none"/>
<rect x="186.22" y="109.55" width="3.30" height="3.30" stroke="#E69F00" stroke-width="0.45" fill="none"/>
<rect x="190.10" y="106.75" width="3.30" height="3.30" stroke="#E69F00" stroke-width="0.45" fill="none"/>
<rect x="193.99" y="104.65" width="3.30" height="3.30" stroke="#E69F00" stroke-width="0.45" fill="none"/>
<rect x="197.87" y="103.15" width="3.30" height="3.30" stroke="#E69F00" stroke-width="0.45" fill="none"/>
<rect x="201.75" y="101.75" width="3.30" height="3.30" stroke="#E69F00" stroke-width="0.45" fill="none"/>
<rect x="205.63" y="100.25" width="3.30" height="3.30" stroke="#E69F00" stroke-width="0.45" fill="none"/>
<rect x="209.51" y="98.75" width="3.30" height="3.30" stroke="#E69F00" stroke-width="0.45" fill="none"/>
<rect x="213.39" y="97.83" width="3.30" height="3.30" stroke="#E69F00" stroke-width="0.45" fill="none"/>
<rect x="217.27" y="97.06" width="3.30" height="3.30" stroke="#E69F00" stroke-width="0.45" fill="none"/>
<rect x="221.15" y="96.40" width="3.30" height="3.30" stroke="#E69F00" stroke-width="0.45" fill="none"/>
<rect x="225.03" y="95.84" width="3.30" height="3.30" stroke="#E69F00" stroke-width="0.45" fill="none"/>
<rect x="228.91" y="95.32" width="3.30" height="3.30" stroke="#E69F00" stroke-width="0.45" fill="none"/>
<rect x="232.79" y="94.83" width="3.30" height="3.30" stroke="#E69F00" stroke-width="0.45" fill="none"/>
<rect x="236.67" y="94.38" width="3.30" height="3.30" stroke="#E69F00" stroke-width="0.45" fill="none"/>
<rect x="240.56" y="94.12" width="3.30" height="3.30" stroke="#E69F00" stroke-width="0.45" fill="none"/>
<rect x="244.44" y="93.90" width="3.30" height="3.30" stroke="#E69F00" stroke-width="0.45" fill="none"/>
<rect x="248.32" y="93.71" width="3.30" height="3.30" stroke="#E69F00" stroke-width="0.45" fill="none"/>
<rect x="252.20" y="93.53" width="3.30" height="3.30" stroke="#E69F00" stroke-width="0.45" fill="none"/>
<rect x="256.08" y="93.37" width="3.30" height="3.30" stroke="#E69F00" stroke-width="0.45" fill="none"/>
<rect x="259.96" y="93.23" width="3.30" height="3.30" stroke="#E69F00" stroke-width="0.45" fill="none"/>
<rect x="263.84" y="93.10" width="3.30" height="3.30" stroke="#E69F00" stroke-width="0.45" fill="none"/>
<rect x="267.72" y="92.98" width="3.30" height="3.30" stroke="#E69F00" stroke-width="0.45" fill="none"/>
<rect x="271.60" y="92.88" width="3.30" height="3.30" stroke="#E69F00" stroke-width="0.45" fill="none"/>
<rect x="275.48" y="92.80" width="3.30" height="3.30" stroke="#E69F00" stroke-width="0.45" fill="none"/>
<rect x="279.36" y="92.72" width="3.30" height="3.30" stroke="#E69F00" stroke-width="0.45" fill="none"/>
<rect x="283.24" y="92.65" width="3.30" height="3.30" stroke="#E69F00" stroke-width="0.45" fill="none"/>
<rect x="287.12" y="92.59" width="3.30" height="3.30" stroke="#E69F00" stroke-width="0.45" fill="none"/>
<rect x="291.01" y="92.53" width="3.30" height="3.30" stroke="#E69F00" stroke-width="0.45" fill="none"/>
<rect x="294.89" y="92.47" width="3.30" height="3.30" stroke="#E69F00" stroke-width="0.45" fill="none"/>
<rect x="298.77" y="92.42" width="3.30" height="3.30" stroke="#E69F00" stroke-width="0.45" fill="none"/>
<rect x="302.65" y="92.37" width="3.30" height="3.30" stroke="#E69F00" stroke-width="0.45" fill="none"/>
<rect x="306.53" y="92.33" width="3.30" height="3.30" stroke="#E69F00" stroke-width="0.45" fill="none"/>
<rect x="310.41" y="92.30" width="3.30" height="3.30" stroke="#E69F00" stroke-width="0.45" fill="none"/>
<rect x="314.29" y="92.27" width="3.30" height="3.30" stroke="#E69F00" stroke-width="0.45" fill="none"/>
<rect x="318.17" y="92.26" width="3.30" height="3.30" stroke="#E69F00" stroke-width="0.45" fill="none"/>
<rect x="322.05" y="92.25" width="3.30" height="3.30" stroke="#E69F00" stroke-width="0.45" fill="none"/>
<rect x="69.75" y="181.80" width="3.40" height="3.40" fill="#F0E442"/>
<rect x="73.63" y="180.11" width="3.40" height="3.40" fill="#F0E442"/>
<rect x="77.51" y="178.40" width="3.40" height="3.40" fill="#F0E442"/>
<rect x="81.39" y="176.66" width="3.40" height="3.40" fill="#F0E442"/>
<rect x="85.27" y="174.90" width="3.40" height="3.40" fill="#F0E442"/>
<rect x="89.15" y="173.11" width="3.40" height="3.40" fill="#F0E442"/>
<rect x="93.03" y="171.30" width="3.40" height="3.40" fill="#F0E442"/>
<rect x="96.92" y="169.51" width="3.40" height="3.40" fill="#F0E442"/>
<rect x="100.80" y="167.70" width="3.40" height="3.40" fill="#F0E442"/>
<rect x="104.68" y="165.89" width="3.40" height="3.40" fill="#F0E442"/>
<rect x="108.56" y="164.00" width="3.40" height="3.40" fill="#F0E442"/>
<rect x="112.44" y="161.91" width="3.40" height="3.40" fill="#F0E442"/>
<rect x="116.32" y="159.70" width="3.40" height="3.40" fill="#F0E442"/>
<rect x="120.20" y="157.44" width="3.40" height="3.40" fill="#F0E442"/>
<rect x="124.08" y="155.15" width="3.40" height="3.40" fill="#F0E442"/>
<rect x="127.96" y="152.90" width="3.40" height="3.40" fill="#F0E442"/>
<rect x="131.84" y="150.60" width="3.40" height="3.40" fill="#F0E442"/>
<rect x="135.72" y="148.11" width="3.40" height="3.40" fill="#F0E442"/>
<rect x="139.60" y="145.55" width="3.40" height="3.40" fill="#F0E442"/>
<rect x="143.49" y="143.01" width="3.40" height="3.40" fill="#F0E442"/>
<rect x="147.37" y="140.40" width="3.40" height="3.40" fill="#F0E442"/>
<rect x="151.25" y="137.57" width="3.40" height="3.40" fill="#F0E442"/>
<rect x="155.13" y="134.70" width="3.40" height="3.40" fill="#F0E442"/>
<rect x="159.01" y="131.98" width="3.40" height="3.40" fill="#F0E442"/>
<rect x="162.89" y="129.30" width="3.40" height="3.40" fill="#F0E442"/>
<rect x="166.77" y="126.60" width="3.40" height="3.40" fill="#F0E442"/>
<rect x="170.65" y="124.03" width="3.40" height="3.40" fill="#F0E442"/>
<rect x="174.53" y="121.55" width="3.40" height="3.40" fill="#F0E442"/>
<rect x="178.41" y="119.15" width="3.40" height="3.40" fill="#F0E442"/>
<rect x="182.29" y="117.57" width="3.40" height="3.40" fill="#F0E442"/>
<rect x="186.17" y="116.15" width="3.40" height="3.40" fill="#F0E442"/>
<rect x="190.05" y="114.50" width="3.40" height="3.40" fill="#F0E442"/>
<rect x="193.94" y="113.46" width="3.40" height="3.40" fill="#F0E442"/>
<rect x="197.82" y="112.60" width="3.40" height="3.40" fill="#F0E442"/>
<rect x="201.70" y="111.67" width="3.40" height="3.40" fill="#F0E442"/>
<rect x="205.58" y="110.90" width="3.40" height="3.40" fill="#F0E442"/>
<rect x="209.46" y="110.35" width="3.40" height="3.40" fill="#F0E442"/>
<rect x="213.34" y="109.85" width="3.40" height="3.40" fill="#F0E442"/>
<rect x="217.22" y="109.40" width="3.40" height="3.40" fill="#F0E442"/>
<rect x="221.10" y="109.00" width="3.40" height="3.40" fill="#F0E442"/>
<rect x="224.98" y="108.63" width="3.40" height="3.40" fill="#F0E442"/>
<rect x="228.86" y="108.30" width="3.40" height="3.40" fill="#F0E442"/>
<rect x="232.74" y="108.00" width="3.40" height="3.40" fill="#F0E442"/>
<rect x="236.62" y="107.71" width="3.40" height="3.40" fill="#F0E442"/>
<rect x="240.51" y="107.45" width="3.40" height="3.40" fill="#F0E442"/>
<rect x="244.39" y="107.20" width="3.40" height="3.40" fill="#F0E442"/>
<rect x="248.27" y="106.97" width="3.40" height="3.40" fill="#F0E442"/>
<rect x="252.15" y="106.76" width="3.40" height="3.40" fill="#F0E442"/>
<rect x="256.03" y="106.57" width="3.40" height="3.40" fill="#F0E442"/>
<rect x="259.91" y="106.41" width="3.40" height="3.40" fill="#F0E442"/>
<rect x="263.79" y="106.29" width="3.40" height="3.40" fill="#F0E442"/>
<rect x="267.67" y="106.17" width="3.40" height="3.40" fill="#F0E442"/>
<rect x="271.55" y="106.06" width="3.40" height="3.40" fill="#F0E442"/>
<rect x="275.43" y="105.95" width="3.40" height="3.40" fill="#F0E442"/>
<rect x="279.31" y="105.85" width="3.40" height="3.40" fill="#F0E442"/>
<rect x="283.19" y="105.75" width="3.40" height="3.40" fill="#F0E442"/>
<rect x="287.07" y="105.66" width="3.40" height="3.40" fill="#F0E442"/>
<rect x="290.96" y="105.57" width="3.40" height="3.40" fill="#F0E442"/>
<rect x="294.84" y="105.49" width="3.40" height="3.40" fill="#F0E442"/>
<rect x="298.72" y="105.42" width="3.40" height="3.40" fill="#F0E442"/>
<rect x="302.60" y="105.35" width="3.40" height="3.40" fill="#F0E442"/>
<rect x="306.48" y="105.30" width="3.40" height="3.40" fill="#F0E442"/>
<rect x="310.36" y="105.26" width="3.40" height="3.40" fill="#F0E442"/>
<rect x="314.24" y="105.23" width="3.40" height="3.40" fill="#F0E442"/>
<rect x="318.12" y="105.21" width="3.40" height="3.40" fill="#F0E442"/>
<rect x="322.00" y="105.20" width="3.40" height="3.40" fill="#F0E442"/>
<circle cx="71.45" cy="183.50" r="1.7" stroke="#0072B2" stroke-width="0.45" fill="none"/>
<circle cx="75.33" cy="181.81" r="1.7" stroke="#0072B2" stroke-width="0.45" fill="none"/>
<circle cx="79.21" cy="180.10" r="1.7" stroke="#0072B2" stroke-width="0.45" fill="none"/>
<circle cx="83.09" cy="178.36" r="1.7" stroke="#0072B2" stroke-width="0.45" fill="none"/>
<circle cx="86.97" cy="176.60" r="1.7" stroke="#0072B2" stroke-width="0.45" fill="none"/>
<circle cx="90.85" cy="174.81" r="1.7" stroke="#0072B2" stroke-width="0.45" fill="none"/>
<circle cx="94.73" cy="173.00" r="1.7" stroke="#0072B2" stroke-width="0.45" fill="none"/>
<circle cx="98.62" cy="171.21" r="1.7" stroke="#0072B2" stroke-width="0.45" fill="none"/>
<circle cx="102.50" cy="169.40" r="1.7" stroke="#0072B2" stroke-width="0.45" fill="none"/>
<circle cx="106.38" cy="167.59" r="1.7" stroke="#0072B2" stroke-width="0.45" fill="none"/>
<circle cx="110.26" cy="165.70" r="1.7" stroke="#0072B2" stroke-width="0.45" fill="none"/>
<circle cx="114.14" cy="163.60" r="1.7" stroke="#0072B2" stroke-width="0.45" fill="none"/>
<circle cx="118.02" cy="161.40" r="1.7" stroke="#0072B2" stroke-width="0.45" fill="none"/>
<circle cx="121.90" cy="159.21" r="1.7" stroke="#0072B2" stroke-width="0.45" fill="none"/>
<circle cx="125.78" cy="157.00" r="1.7" stroke="#0072B2" stroke-width="0.45" fill="none"/>
<circle cx="129.66" cy="154.82" r="1.7" stroke="#0072B2" stroke-width="0.45" fill="none"/>
<circle cx="133.54" cy="152.60" r="1.7" stroke="#0072B2" stroke-width="0.45" fill="none"/>
<circle cx="137.42" cy="150.23" r="1.7" stroke="#0072B2" stroke-width="0.45" fill="none"/>
<circle cx="141.30" cy="147.80" r="1.7" stroke="#0072B2" stroke-width="0.45" fill="none"/>
<circle cx="145.19" cy="145.42" r="1.7" stroke="#0072B2" stroke-width="0.45" fill="none"/>
<circle cx="149.07" cy="143.00" r="1.7" stroke="#0072B2" stroke-width="0.45" fill="none"/>
<circle cx="152.95" cy="140.39" r="1.7" stroke="#0072B2" stroke-width="0.45" fill="none"/>
<circle cx="156.83" cy="137.80" r="1.7" stroke="#0072B2" stroke-width="0.45" fill="none"/>
<circle cx="160.71" cy="135.34" r="1.7" stroke="#0072B2" stroke-width="0.45" fill="none"/>
<circle cx="164.59" cy="133.20" r="1.7" stroke="#0072B2" stroke-width="0.45" fill="none"/>
<circle cx="168.47" cy="131.55" r="1.7" stroke="#0072B2" stroke-width="0.45" fill="none"/>
<circle cx="172.35" cy="130.20" r="1.7" stroke="#0072B2" stroke-width="0.45" fill="none"/>
<circle cx="176.23" cy="129.11" r="1.7" stroke="#0072B2" stroke-width="0.45" fill="none"/>
<circle cx="180.11" cy="128.10" r="1.7" stroke="#0072B2" stroke-width="0.45" fill="none"/>
<circle cx="183.99" cy="127.00" r="1.7" stroke="#0072B2" stroke-width="0.45" fill="none"/>
<circle cx="187.87" cy="126.20" r="1.7" stroke="#0072B2" stroke-width="0.45" fill="none"/>
<circle cx="191.75" cy="125.39" r="1.7" stroke="#0072B2" stroke-width="0.45" fill="none"/>
<circle cx="195.64" cy="124.73" r="1.7" stroke="#0072B2" stroke-width="0.45" fill="none"/>
<circle cx="199.52" cy="124.28" r="1.7" stroke="#0072B2" stroke-width="0.45" fill="none"/>
<circle cx="203.40" cy="123.91" r="1.7" stroke="#0072B2" stroke-width="0.45" fill="none"/>
<circle cx="207.28" cy="123.55" r="1.7" stroke="#0072B2" stroke-width="0.45" fill="none"/>
<circle cx="211.16" cy="123.19" r="1.7" stroke="#0072B2" stroke-width="0.45" fill="none"/>
<circle cx="215.04" cy="122.86" r="1.7" stroke="#0072B2" stroke-width="0.45" fill="none"/>
<circle cx="218.92" cy="122.61" r="1.7" stroke="#0072B2" stroke-width="0.45" fill="none"/>
<circle cx="222.80" cy="122.41" r="1.7" stroke="#0072B2" stroke-width="0.45" fill="none"/>
<circle cx="226.68" cy="122.23" r="1.7" stroke="#0072B2" stroke-width="0.45" fill="none"/>
<circle cx="230.56" cy="122.07" r="1.7" stroke="#0072B2" stroke-width="0.45" fill="none"/>
<circle cx="234.44" cy="121.91" r="1.7" stroke="#0072B2" stroke-width="0.45" fill="none"/>
<circle cx="238.32" cy="121.77" r="1.7" stroke="#0072B2" stroke-width="0.45" fill="none"/>
<circle cx="242.21" cy="121.64" r="1.7" stroke="#0072B2" stroke-width="0.45" fill="none"/>
<circle cx="246.09" cy="121.52" r="1.7" stroke="#0072B2" stroke-width="0.45" fill="none"/>
<circle cx="249.97" cy="121.40" r="1.7" stroke="#0072B2" stroke-width="0.45" fill="none"/>
<circle cx="253.85" cy="121.30" r="1.7" stroke="#0072B2" stroke-width="0.45" fill="none"/>
<circle cx="257.73" cy="121.19" r="1.7" stroke="#0072B2" stroke-width="0.45" fill="none"/>
<circle cx="261.61" cy="121.09" r="1.7" stroke="#0072B2" stroke-width="0.45" fill="none"/>
<circle cx="265.49" cy="120.99" r="1.7" stroke="#0072B2" stroke-width="0.45" fill="none"/>
<circle cx="269.37" cy="120.89" r="1.7" stroke="#0072B2" stroke-width="0.45" fill="none"/>
<circle cx="273.25" cy="120.79" r="1.7" stroke="#0072B2" stroke-width="0.45" fill="none"/>
<circle cx="277.13" cy="120.69" r="1.7" stroke="#0072B2" stroke-width="0.45" fill="none"/>
<circle cx="281.01" cy="120.60" r="1.7" stroke="#0072B2" stroke-width="0.45" fill="none"/>
<circle cx="284.89" cy="120.51" r="1.7" stroke="#0072B2" stroke-width="0.45" fill="none"/>
<circle cx="288.77" cy="120.42" r="1.7" stroke="#0072B2" stroke-width="0.45" fill="none"/>
<circle cx="292.66" cy="120.33" r="1.7" stroke="#0072B2" stroke-width="0.45" fill="none"/>
<circle cx="296.54" cy="120.25" r="1.7" stroke="#0072B2" stroke-width="0.45" fill="none"/>
<circle cx="300.42" cy="120.18" r="1.7" stroke="#0072B2" stroke-width="0.45" fill="none"/>
<circle cx="304.30" cy="120.10" r="1.7" stroke="#0072B2" stroke-width="0.45" fill="none"/>
<circle cx="308.18" cy="120.03" r="1.7" stroke="#0072B2" stroke-width="0.45" fill="none"/>
<circle cx="312.06" cy="119.97" r="1.7" stroke="#0072B2" stroke-width="0.45" fill="none"/>
<circle cx="315.94" cy="119.91" r="1.7" stroke="#0072B2" stroke-width="0.45" fill="none"/>
<circle cx="319.82" cy="119.85" r="1.7" stroke="#0072B2" stroke-width="0.45" fill="none"/>
<circle cx="323.70" cy="119.80" r="1.7" stroke="#0072B2" stroke-width="0.45" fill="none"/>
<circle cx="71.45" cy="183.50" r="1.7" fill="#E51E10"/>
<circle cx="75.33" cy="174.75" r="1.7" fill="#E51E10"/>
<circle cx="79.21" cy="166.29" r="1.7" fill="#E51E10"/>
<circle cx="83.09" cy="157.82" r="1.7" fill="#E51E10"/>
<circle cx="86.97" cy="149.33" r="1.7" fill="#E51E10"/>
<circle cx="90.85" cy="140.81" r="1.7" fill="#E51E10"/>
<circle cx="94.73" cy="132.26" r="1.7" fill="#E51E10"/>
<circle cx="98.62" cy="123.67" r="1.7" fill="#E51E10"/>
<circle cx="102.50" cy="115.04" r="1.7" fill="#E51E10"/>
<circle cx="106.38" cy="106.35" r="1.7" fill="#E51E10"/>
<circle cx="110.26" cy="97.60" r="1.7" fill="#E51E10"/>
<circle cx="114.14" cy="88.79" r="1.7" fill="#E51E10"/>
<circle cx="118.02" cy="79.90" r="1.7" fill="#E51E10"/>
<circle cx="121.90" cy="70.93" r="1.7" fill="#E51E10"/>
<circle cx="125.78" cy="61.88" r="1.7" fill="#E51E10"/>
<circle cx="129.66" cy="52.74" r="1.7" fill="#E51E10"/>
<path d="M71.45 182.10L73.20 185.13H69.70Z" stroke="#000" stroke-width="0.5" fill="#000" fill-opacity="0.35"/>
<path d="M75.33 180.55L77.08 183.58H73.58Z" stroke="#000" stroke-width="0.5" fill="#000" fill-opacity="0.35"/>
<path d="M79.21 178.99L80.96 182.01H77.46Z" stroke="#000" stroke-width="0.5" fill="#000" fill-opacity="0.35"/>
<path d="M83.09 177.40L84.84 180.43H81.34Z" stroke="#000" stroke-width="0.5" fill="#000" fill-opacity="0.35"/>
<path d="M86.97 175.80L88.72 178.83H85.22Z" stroke="#000" stroke-width="0.5" fill="#000" fill-opacity="0.35"/>
<path d="M90.85 174.18L92.60 177.20H89.10Z" stroke="#000" stroke-width="0.5" fill="#000" fill-opacity="0.35"/>
<path d="M94.73 172.53L96.48 175.56H92.98Z" stroke="#000" stroke-width="0.5" fill="#000" fill-opacity="0.35"/>
<path d="M98.62 170.87L100.37 173.90H96.87Z" stroke="#000" stroke-width="0.5" fill="#000" fill-opacity="0.35"/>
<path d="M102.50 169.20L104.25 172.23H100.75Z" stroke="#000" stroke-width="0.5" fill="#000" fill-opacity="0.35"/>
<path d="M106.38 167.55L108.13 170.57H104.63Z" stroke="#000" stroke-width="0.5" fill="#000" fill-opacity="0.35"/>
<path d="M110.26 165.80L112.01 168.83H108.51Z" stroke="#000" stroke-width="0.5" fill="#000" fill-opacity="0.35"/>
<path d="M114.14 163.76L115.89 166.78H112.39Z" stroke="#000" stroke-width="0.5" fill="#000" fill-opacity="0.35"/>
<path d="M118.02 161.70L119.77 164.73H116.27Z" stroke="#000" stroke-width="0.5" fill="#000" fill-opacity="0.35"/>
<path d="M121.90 159.92L123.65 162.95H120.15Z" stroke="#000" stroke-width="0.5" fill="#000" fill-opacity="0.35"/>
<path d="M125.78 158.20L127.53 161.23H124.03Z" stroke="#000" stroke-width="0.5" fill="#000" fill-opacity="0.35"/>
<path d="M129.66 156.39L131.41 159.42H127.91Z" stroke="#000" stroke-width="0.5" fill="#000" fill-opacity="0.35"/>
<path d="M133.54 154.60L135.29 157.63H131.79Z" stroke="#000" stroke-width="0.5" fill="#000" fill-opacity="0.35"/>
<path d="M137.42 152.90L139.17 155.93H135.67Z" stroke="#000" stroke-width="0.5" fill="#000" fill-opacity="0.35"/>
<path d="M141.30 151.20L143.05 154.23H139.55Z" stroke="#000" stroke-width="0.5" fill="#000" fill-opacity="0.35"/>
<path d="M145.19 149.04L146.94 152.07H143.44Z" stroke="#000" stroke-width="0.5" fill="#000" fill-opacity="0.35"/>
<path d="M149.07 146.60L150.82 149.63H147.32Z" stroke="#000" stroke-width="0.5" fill="#000" fill-opacity="0.35"/>
<path d="M152.95 143.99L154.70 147.02H151.20Z" stroke="#000" stroke-width="0.5" fill="#000" fill-opacity="0.35"/>
<path d="M156.83 141.20L158.58 144.23H155.08Z" stroke="#000" stroke-width="0.5" fill="#000" fill-opacity="0.35"/>
<path d="M160.71 138.20L162.46 141.23H158.96Z" stroke="#000" stroke-width="0.5" fill="#000" fill-opacity="0.35"/>
<path d="M164.59 135.20L166.34 138.23H162.84Z" stroke="#000" stroke-width="0.5" fill="#000" fill-opacity="0.35"/>
<path d="M168.47 132.20L170.22 135.23H166.72Z" stroke="#000" stroke-width="0.5" fill="#000" fill-opacity="0.35"/>
<path d="M172.35 128.72L174.10 131.74H170.60Z" stroke="#000" stroke-width="0.5" fill="#000" fill-opacity="0.35"/>
<path d="M176.23 125.00L177.98 128.03H174.48Z" stroke="#000" stroke-width="0.5" fill="#000" fill-opacity="0.35"/>
<path d="M180.11 121.20L181.86 124.23H178.36Z" stroke="#000" stroke-width="0.5" fill="#000" fill-opacity="0.35"/>
<path d="M183.99 118.43V119.17M182.49 118.43H185.49M182.49 119.17H185.49" stroke="#000" stroke-width="0.6" fill="none"/>
<path d="M183.99 117.40L185.74 120.43H182.24Z" stroke="#000" stroke-width="0.5" fill="#000" fill-opacity="0.35"/>
<path d="M187.87 114.13V115.07M186.37 114.13H189.37M186.37 115.07H189.37" stroke="#000" stroke-width="0.6" fill="none"/>
<path d="M187.87 113.20L189.62 116.23H186.12Z" stroke="#000" stroke-width="0.5" fill="#000" fill-opacity="0.35"/>
<path d="M191.75 109.31V110.49M190.25 109.31H193.25M190.25 110.49H193.25" stroke="#000" stroke-width="0.6" fill="none"/>
<path d="M191.75 108.50L193.50 111.53H190.00Z" stroke="#000" stroke-width="0.5" fill="#000" fill-opacity="0.35"/>
<path d="M195.64 104.76V106.24M194.14 104.76H197.14M194.14 106.24H197.14" stroke="#000" stroke-width="0.6" fill="none"/>
<path d="M195.64 104.10L197.39 107.13H193.89Z" stroke="#000" stroke-width="0.5" fill="#000" fill-opacity="0.35"/>
<path d="M199.52 99.68V101.52M198.02 99.68H201.02M198.02 101.52H201.02" stroke="#000" stroke-width="0.6" fill="none"/>
<path d="M199.52 99.20L201.27 102.23H197.77Z" stroke="#000" stroke-width="0.5" fill="#000" fill-opacity="0.35"/>
<path d="M203.40 94.87V97.13M201.90 94.87H204.90M201.90 97.13H204.90" stroke="#000" stroke-width="0.6" fill="none"/>
<path d="M203.40 94.60L205.15 97.63H201.65Z" stroke="#000" stroke-width="0.5" fill="#000" fill-opacity="0.35"/>
<path d="M207.28 89.09V91.86M205.78 89.09H208.78M205.78 91.86H208.78" stroke="#000" stroke-width="0.6" fill="none"/>
<path d="M207.28 89.07L209.03 92.10H205.53Z" stroke="#000" stroke-width="0.5" fill="#000" fill-opacity="0.35"/>
<path d="M211.16 82.81V86.19M209.66 82.81H212.66M209.66 86.19H212.66" stroke="#000" stroke-width="0.6" fill="none"/>
<path d="M211.16 83.10L212.91 86.13H209.41Z" stroke="#000" stroke-width="0.5" fill="#000" fill-opacity="0.35"/>
<path d="M215.04 76.35V80.45M213.54 76.35H216.54M213.54 80.45H216.54" stroke="#000" stroke-width="0.6" fill="none"/>
<path d="M215.04 77.00L216.79 80.03H213.29Z" stroke="#000" stroke-width="0.5" fill="#000" fill-opacity="0.35"/>
<path d="M218.92 69.53V74.47M217.42 69.53H220.42M217.42 74.47H220.42" stroke="#000" stroke-width="0.6" fill="none"/>
<path d="M218.92 70.60L220.67 73.63H217.17Z" stroke="#000" stroke-width="0.5" fill="#000" fill-opacity="0.35"/>
<path d="M222.80 62.54V68.46M221.30 62.54H224.30M221.30 68.46H224.30" stroke="#000" stroke-width="0.6" fill="none"/>
<path d="M222.80 64.10L224.55 67.13H221.05Z" stroke="#000" stroke-width="0.5" fill="#000" fill-opacity="0.35"/>
<path d="M226.68 54.77V61.83M225.18 54.77H228.18M225.18 61.83H228.18" stroke="#000" stroke-width="0.6" fill="none"/>
<path d="M226.68 56.90L228.43 59.93H224.93Z" stroke="#000" stroke-width="0.5" fill="#000" fill-opacity="0.35"/>
<path d="M230.56 46.40V54.80M229.06 46.40H232.06M229.06 54.80H232.06" stroke="#000" stroke-width="0.6" fill="none"/>
<path d="M230.56 49.20L232.31 52.23H228.81Z" stroke="#000" stroke-width="0.5" fill="#000" fill-opacity="0.35"/>
</g>
<rect x="71.4" y="46.6" width="252.20000000000002" height="136.9" fill="none" stroke="#000" stroke-width="0.9"/>
<text x="62.7" y="188.30" font-size="14.4" text-anchor="end">0</text>
<text x="62.7" y="160.90" font-size="14.4" text-anchor="end">0.1</text>
<text x="62.7" y="133.50" font-size="14.4" text-anchor="end">0.2</text>
<text x="62.7" y="106.10" font-size="14.4" text-anchor="end">0.3</text>
<text x="62.7" y="78.70" font-size="14.4" text-anchor="end">0.4</text>
<text x="62.7" y="51.30" font-size="14.4" text-anchor="end">0.5</text>
<text x="72.75" y="203" font-size="14.4" text-anchor="middle">0</text>
<text x="105.09" y="203" font-size="14.4" text-anchor="middle">0.5</text>
<text x="137.43" y="203" font-size="14.4" text-anchor="middle">1</text>
<text x="169.77" y="203" font-size="14.4" text-anchor="middle">1.5</text>
<text x="202.11" y="203" font-size="14.4" text-anchor="middle">2</text>
<text x="234.45" y="203" font-size="14.4" text-anchor="middle">2.5</text>
<text x="266.79" y="203" font-size="14.4" text-anchor="middle">3</text>
<text x="299.13" y="203" font-size="14.4" text-anchor="middle">3.5</text>
<text x="182.7" y="223.4" font-size="14.4">μ<tspan font-size="11.8" dy="4">B</tspan><tspan dy="-4">/T</tspan></text>
<text transform="translate(17,131.2) rotate(-90)" font-size="14.2">n<tspan font-size="11.5" dy="4.4">B</tspan><tspan dy="-4.4">/T</tspan><tspan font-size="11.5" dy="-8.6">3</tspan></text>
<text x="35.90" y="12.00" font-size="10.3">√</text><text x="41.20" y="12.9" font-size="9.5">s</text><text x="44.50" y="15.30" font-size="7.8">NN</text><text x="55.77" y="12.9" font-size="9.5" xml:space="preserve"> = 11.5</text><path d="M41.30 4.06h5.4" stroke="#000" stroke-width="0.5" fill="none"/>
<text x="35.90" y="26.20" font-size="10.3">√</text><text x="41.20" y="27.1" font-size="9.5">s</text><text x="44.50" y="29.50" font-size="7.8">NN</text><text x="55.77" y="27.1" font-size="9.5" xml:space="preserve"> = 19.6</text><path d="M41.30 18.26h5.4" stroke="#000" stroke-width="0.5" fill="none"/>
<text x="119.23" y="12.00" font-size="10.3">√</text><text x="124.53" y="12.9" font-size="9.5">s</text><text x="127.83" y="15.30" font-size="7.8">NN</text><text x="139.09" y="12.9" font-size="9.5" xml:space="preserve"> = 27</text><path d="M124.63 4.06h5.4" stroke="#000" stroke-width="0.5" fill="none"/>
<text x="119.23" y="26.20" font-size="10.3">√</text><text x="124.53" y="27.1" font-size="9.5">s</text><text x="127.83" y="29.50" font-size="7.8">NN</text><text x="139.09" y="27.1" font-size="9.5" xml:space="preserve"> = 39</text><path d="M124.63 18.26h5.4" stroke="#000" stroke-width="0.5" fill="none"/>
<text x="188.30" y="12.00" font-size="10.3">√</text><text x="193.60" y="12.9" font-size="9.5">s</text><text x="196.90" y="15.30" font-size="7.8">NN</text><text x="208.17" y="12.9" font-size="9.5" xml:space="preserve"> = 62.4</text><path d="M193.70 4.06h5.4" stroke="#000" stroke-width="0.5" fill="none"/>
<text x="190.68" y="26.20" font-size="10.3">√</text><text x="195.98" y="27.1" font-size="9.5">s</text><text x="199.28" y="29.50" font-size="7.8">NN</text><text x="210.54" y="27.1" font-size="9.5" xml:space="preserve"> = 200</text><path d="M196.08 18.26h5.4" stroke="#000" stroke-width="0.5" fill="none"/>
<text x="311.1" y="12.9" font-size="9.5" text-anchor="end">T/T<tspan font-size="7.8" dy="2.6">c</tspan><tspan dy="-2.6">=1.35</tspan></text>
<text x="311.1" y="27.1" font-size="9.5" text-anchor="end">T/T<tspan font-size="7.8" dy="2.6">c</tspan><tspan dy="-2.6">=0.93</tspan></text>
<path d="M100.60 10.30H104.00M102.30 8.60V12.00" stroke="#9400D3" stroke-width="0.42" fill="none"/>
<path d="M100.70 23.30L103.90 26.50M100.70 26.50L103.90 23.30" stroke="#009E73" stroke-width="0.5" fill="none"/>
<path d="M177.00 10.30H180.20M178.60 8.70V11.90" stroke="#56B4E9" stroke-width="0.5" fill="none"/><path d="M177.00 8.70L180.20 11.90M177.00 11.90L180.20 8.70" stroke="#56B4E9" stroke-width="0.5" fill="none"/>
<rect x="176.95" y="23.25" width="3.30" height="3.30" stroke="#E69F00" stroke-width="0.45" fill="none"/>
<rect x="253.00" y="8.60" width="3.40" height="3.40" fill="#F0E442"/>
<circle cx="254.70" cy="24.90" r="1.7" stroke="#0072B2" stroke-width="0.45" fill="none"/>
<path d="M317.4 10.3H343.5M317.4 8.700000000000001v3.2M343.5 8.700000000000001v3.2" stroke="#E51E10" stroke-width="0.6" fill="none"/>
<path d="M317.4 24.9H343.5M317.4 23.299999999999997v3.2M343.5 23.299999999999997v3.2" stroke="#000000" stroke-width="0.6" fill="none"/>
<circle cx="330.50" cy="10.30" r="1.7" fill="#E51E10"/>
<path d="M330.50 23.46L332.30 26.57H328.70Z" stroke="#000" stroke-width="0.5" fill="#000" fill-opacity="0.35"/>
</svg>
</body></html>
